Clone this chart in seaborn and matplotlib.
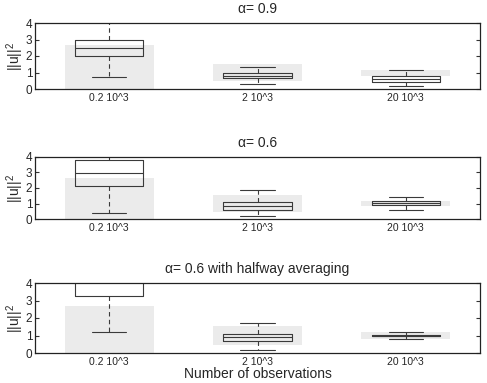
import pandas as pd
import matplotlib
matplotlib.use('Agg')
import matplotlib.pyplot as plt
import seaborn as sns

# categories on the x axis
categories = ['0.2 10^3', '2 10^3', '20 10^3']
titles = ['\u03b1= 0.9', '\u03b1= 0.6', '\u03b1= 0.6 with halfway averaging']

# five-number summaries: [low whisker, q1, median, q3, high whisker]
alpha_09 = [[0.73, 2.02, 2.46, 2.97, 4.60],
            [0.32, 0.67, 0.81, 0.95, 1.31],
            [0.20, 0.40, 0.61, 0.79, 1.13]]
alpha_06 = [[0.39, 2.11, 2.97, 3.81, 4.50],
            [0.19, 0.58, 0.84, 1.12, 1.87],
            [0.60, 0.90, 1.03, 1.16, 1.44]]
alpha_06_avg = [[1.22, 3.26, 4.60, 5.50, 7.00],
                [0.19, 0.70, 0.91, 1.09, 1.70],
                [0.80, 0.97, 1.00, 1.03, 1.22]]

# grey reference band behind each box
ref_low = [0.0, 0.46, 0.81]
ref_high = [2.66, 1.54, 1.18]


def to_long(summary):
    rows = []
    for cat, vals in zip(categories, summary):
        for v in vals:
            rows.append({'obs': cat, 'value': v})
    return pd.DataFrame(rows)


sns.set_style('white')
plt.rcParams['font.family'] = ['Liberation Sans', 'DejaVu Sans']
plt.rcParams['mathtext.default'] = 'regular'

fig = plt.figure(figsize=(4.87, 3.83), dpi=100)
W, H = 487, 383
# axes boxes in pixels: (top, bottom)
boxes_px = [(23, 89), (157, 219), (283, 353)]
left_px, right_px = 35, 480

line_col = '#3a3a3a'
panels = [alpha_09, alpha_06, alpha_06_avg]

for i, (summary, title, (top, bot)) in enumerate(zip(panels, titles, boxes_px)):
    ax = fig.add_axes([left_px / W, 1 - bot / H, (right_px - left_px) / W, (bot - top) / H])
    ax.set_facecolor('white')
    heights = [h - l for h, l in zip(ref_high, ref_low)]
    ax.bar(range(len(categories)), heights, bottom=ref_low, width=0.6,
           color='#ebebeb', edgecolor='none', zorder=0)
    df = to_long(summary)
    sns.boxplot(data=df, x='obs', y='value', order=categories, whis=(0, 100),
                width=0.46, fill=False, color=line_col, linewidth=0.8,
                showfliers=False, ax=ax,
                whiskerprops={'linestyle': (0, (4, 3))})
    ax.set_xlim(-0.5, 2.5)
    ax.set_ylim(0, 4)
    ax.set_yticks([0, 1, 2, 3, 4])
    ax.set_title(title, fontsize=10, pad=7)
    ax.set_ylabel('||u||$^2$', fontsize=10)
    ax.yaxis.set_label_coords(-0.02, 0.5)
    ax.set_xlabel('Number of observations' if i == 2 else '', fontsize=10, labelpad=0)
    ax.tick_params(axis='y', direction='in', length=3, width=0.8, right=True,
                   left=True, labelsize=8.5, pad=2, color='#333333')
    ax.tick_params(axis='x', length=0, labelsize=7.5, pad=3)
    for s in ax.spines.values():
        s.set_visible(True)
        s.set_color('#222222')
        s.set_linewidth(0.9)

fig.savefig('out.png', dpi=100)
